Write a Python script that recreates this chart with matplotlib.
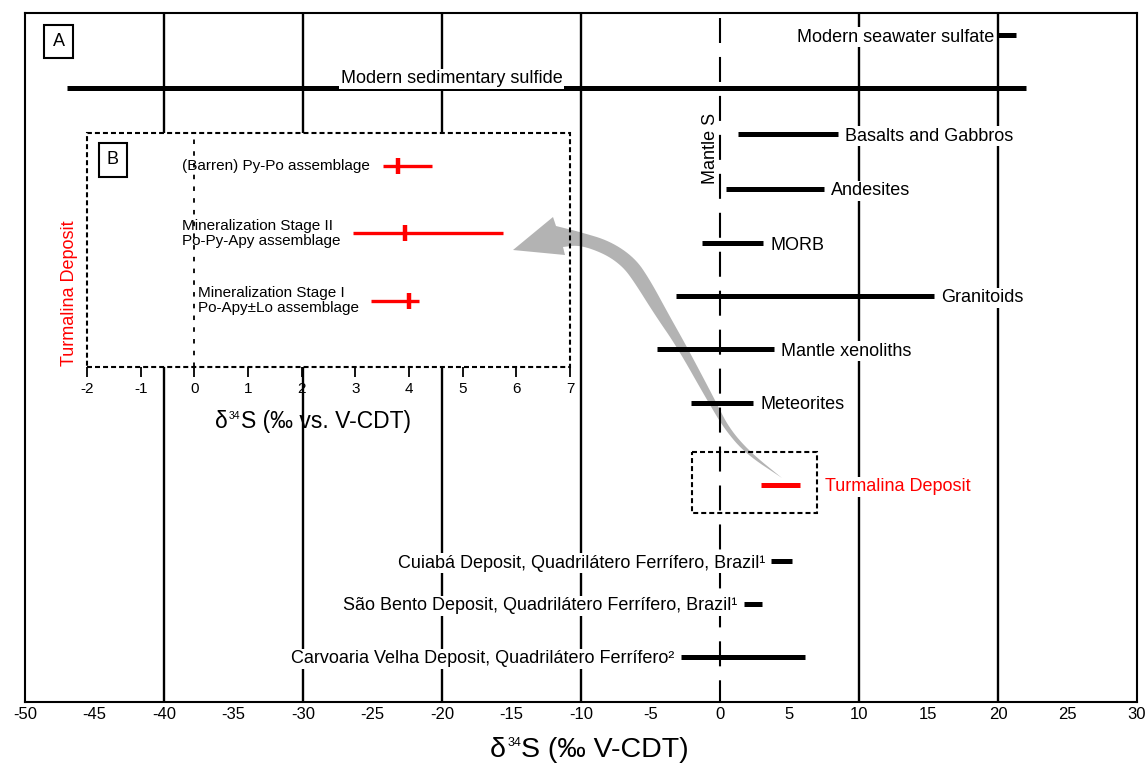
import numpy as np
import matplotlib
matplotlib.use("Agg")
import matplotlib.pyplot as plt
from matplotlib.patches import Rectangle, Polygon

plt.rcParams['font.family'] = ['Liberation Sans', 'DejaVu Sans']
plt.rcParams['axes.unicode_minus'] = False

# --- d34S ranges (permil V-CDT) ---
sources = ["Modern seawater sulfate", "Modern sedimentary sulfide", "Basalts and Gabbros",
           "Andesites", "MORB", "Granitoids", "Mantle xenoliths", "Meteorites"]
src_lo = [20.0, -47.0, 1.3, 0.4, -1.3, -3.2, -4.5, -2.1]
src_hi = [21.3, 22.0, 8.5, 7.5, 3.1, 15.4, 3.9, 2.4]
src_side = ["left", "above", "right", "right", "right", "right", "right", "right"]

deposits = ["Cuiabá Deposit, Quadrilátero Ferrífero, Brazil¹",
            "São Bento Deposit, Quadrilátero Ferrífero, Brazil¹",
            "Carvoaria Velha Deposit, Quadrilátero Ferrífero²"]
dep_lo = [3.7, 1.7, -2.8]
dep_hi = [5.2, 3.0, 6.1]

# Turmalina deposit (inset B), top to bottom
stages = ["(Barren) Py-Po assemblage",
          "Mineralization Stage II\nPo-Py-Apy assemblage",
          "Mineralization Stage I\nPo-Apy±Lo assemblage"]
stage_lo = [3.51, 2.95, 3.30]
stage_hi = [4.42, 5.76, 4.18]
stage_mid = [3.79, 3.93, 4.00]

main_ticks = np.arange(-50, 31, 5)
inset_ticks = np.arange(-2, 8, 1)

# layout (row positions, top = 0)
src_rows = [0.41, 1.39, 2.25, 3.27, 4.28, 5.26, 6.25, 7.25]
turm_row = 8.77
dep_rows = [10.19, 10.98, 11.97]
sulfide_label_x = -19.3

W, H = 1146, 774
fig = plt.figure(figsize=(W / 100, H / 100), dpi=100)
ax = fig.add_axes([25 / W, 1 - 702 / H, 1112 / W, 689 / H])
inset_pos = [87 / W, 1 - 367 / H, 483 / W, 234 / H]

ax.set_xlim(-50, 30)
ax.set_ylim(12.81, 0)
ax.set_yticks([])
ax.set_xticks(main_ticks)
ax.tick_params(axis='x', length=0, pad=3.6, labelsize=12)
for s in ax.spines.values():
    s.set_linewidth(1.5)

# grid lines
for x in [-40, -30, -20]:
    ax.axvline(x, color='black', lw=1.7, zorder=1.1)
for x in [-10, 10, 20]:
    ax.axvline(x, color='black', lw=1.7, zorder=1.4)
ax.plot([0, 0], [0, 12.81], color='black', lw=1.5, zorder=1.4,
        linestyle=(16.3, (12, 6.7)))

# white area behind the inset
ax.add_patch(Rectangle(inset_pos[:2], inset_pos[2], inset_pos[3], transform=fig.transFigure,
                       facecolor='white', edgecolor='none', zorder=1.2, clip_on=False))


def chaikin(pts, n=3):
    pts = np.asarray(pts, float)
    for _ in range(n):
        q = 0.75 * pts[:-1] + 0.25 * pts[1:]
        r = 0.25 * pts[:-1] + 0.75 * pts[1:]
        mid = np.empty((2 * len(q), 2))
        mid[0::2], mid[1::2] = q, r
        pts = np.vstack([pts[:1], mid, pts[-1:]])
    return pts


# gray curved arrow from the Turmalina box to the inset (figure pixels)
head = [(565, 255), (513, 250), (553, 217)]
outer = [(556, 226), (580, 232), (610, 241), (635, 258), (650, 280), (669, 315), (687, 347),
         (715, 400), (729, 428), (750, 452), (782, 478)]
inner = [(782, 478), (746, 454), (725, 430), (707, 400), (677, 347), (655, 315), (633, 280),
         (622, 266), (605, 254), (580, 245), (563, 247)]
arrow_px = np.vstack([head, chaikin(outer), chaikin(inner)])
arrow_fig = np.column_stack([arrow_px[:, 0] / W, 1 - arrow_px[:, 1] / H])
ax.add_patch(Polygon(arrow_fig, closed=True, transform=fig.transFigure, facecolor='#b3b3b3',
                     edgecolor='none', zorder=1.3, clip_on=False))

box = dict(facecolor='white', edgecolor='none', pad=1)


def put_label(text, x, y, side, dx=5, color='black'):
    if side == "right":
        ha, off = 'left', (dx, 0)
    elif side == "left":
        ha, off = 'right', (-dx, 0)
    else:
        ha, off = 'center', (0, 8)
    ax.annotate(text, (x, y), xytext=off, textcoords='offset points', ha=ha,
                va='center_baseline', fontsize=13, color=color, zorder=4, bbox=box)


for name, lo, hi, y, side in zip(sources, src_lo, src_hi, src_rows, src_side):
    ax.plot([lo, hi], [y, y], color='black', lw=3.6, solid_capstyle='butt', zorder=3)
    if side == "right":
        put_label(name, hi, y, side)
    elif side == "left":
        put_label(name, lo, y, side, dx=3)
    else:
        put_label(name, sulfide_label_x, y, side)

for name, lo, hi, y in zip(deposits, dep_lo, dep_hi, dep_rows):
    ax.plot([lo, hi], [y, y], color='black', lw=3.6, solid_capstyle='butt', zorder=3)
    put_label(name, lo, y, "left", dx=4.5)

turm_lo, turm_hi = min(stage_lo), max(stage_hi)
ax.plot([turm_lo, turm_hi], [turm_row, turm_row], color='#ff0000', lw=3.6,
        solid_capstyle='butt', zorder=3)
put_label("Turmalina Deposit", turm_hi, turm_row, "right", dx=18, color='#ff0000')
ax.add_patch(Rectangle((inset_ticks[0], turm_row - 0.6), inset_ticks[-1] - inset_ticks[0], 1.13,
                       facecolor='none', edgecolor='black', lw=1.5,
                       linestyle=(0, (2.4, 1.45)), zorder=3))

ax.annotate("Mantle S", (0, 2.51), xytext=(-6.5, 0), textcoords='offset points',
            rotation=90, ha='center', va='center', fontsize=13, zorder=4)
ax.text((58.5 - 25) / 1112, 1 - (41.5 - 13) / 689, "A", transform=ax.transAxes,
        ha='center', va='center', fontsize=13, zorder=5,
        bbox=dict(boxstyle='square,pad=0.45', facecolor='white', edgecolor='black', lw=1.5))


def d34s_label(x_px, base_px, size, supsize, rest):
    # delta, small raised "34", then the rest, on a common baseline (figure pixels)
    y = H - base_px
    t1 = fig.text(x_px / W, y / H, "δ", fontsize=size, va='baseline', ha='left')
    lift = 0.716 * (size - supsize) * 100 / 72
    t2 = ax.annotate("34", xy=(1, y + lift), xycoords=(t1, 'figure pixels'), xytext=(0.8, 0),
                     textcoords='offset points', va='baseline', ha='left', fontsize=supsize,
                     annotation_clip=False)
    ax.annotate(rest, xy=(1, y), xycoords=(t2, 'figure pixels'), xytext=(0.3, 0),
                textcoords='offset points', va='baseline', ha='left', fontsize=size,
                annotation_clip=False)


d34s_label(490, 757, 20.5, 9, "S (‰ V-CDT)")

# --- inset B ---
ax2 = fig.add_axes(inset_pos)
ax2.set_facecolor('none')
ax2.set_xlim(inset_ticks[0], inset_ticks[-1])
ax2.set_ylim(3.98, 0.51)
ax2.set_yticks([])
ax2.set_xticks(inset_ticks)
ax2.tick_params(axis='x', direction='out', length=7, width=1.3, pad=3.6, labelsize=11)
for s in ax2.spines.values():
    s.set_visible(False)
ax2.add_patch(Rectangle((0, 0), 1, 1, transform=ax2.transAxes, facecolor='none',
                        edgecolor='black', lw=1.5, linestyle=(0, (2.4, 1.45)),
                        clip_on=False, zorder=5))
ax2.axvline(0, color='black', lw=1.3, linestyle=(0, (2.5, 4)), zorder=1)

rows2 = np.arange(1, len(stages) + 1)
for name, lo, hi, mid, y in zip(stages, stage_lo, stage_hi, stage_mid, rows2):
    ax2.plot([lo, hi], [y, y], color='#ff0000', lw=2.4, solid_capstyle='butt', zorder=3)
    ax2.plot([mid], [y], marker='|', ms=11.5, mew=3.2, color='#ff0000', zorder=3)
    ax2.annotate(name, (lo, y), xytext=(-9, 0), textcoords='offset points', ha='right',
                 multialignment='left', va='center', fontsize=11, linespacing=1.1, zorder=4)

ax2.text((70 - 87) / 483, 1 - (293 - 133) / 234, "Turmalina Deposit", transform=ax2.transAxes,
         rotation=90, ha='center', va='center', fontsize=13, color='#ff0000')
ax2.text((113 - 87) / 483, 1 - (160 - 133) / 234, "B", transform=ax2.transAxes,
         ha='center', va='center', fontsize=13,
         bbox=dict(boxstyle='square,pad=0.45', facecolor='white', edgecolor='black', lw=1.5))

d34s_label(215, 428, 16.5, 7.5, "S (‰ vs. V-CDT)")

fig.savefig("out.png", dpi=100)
